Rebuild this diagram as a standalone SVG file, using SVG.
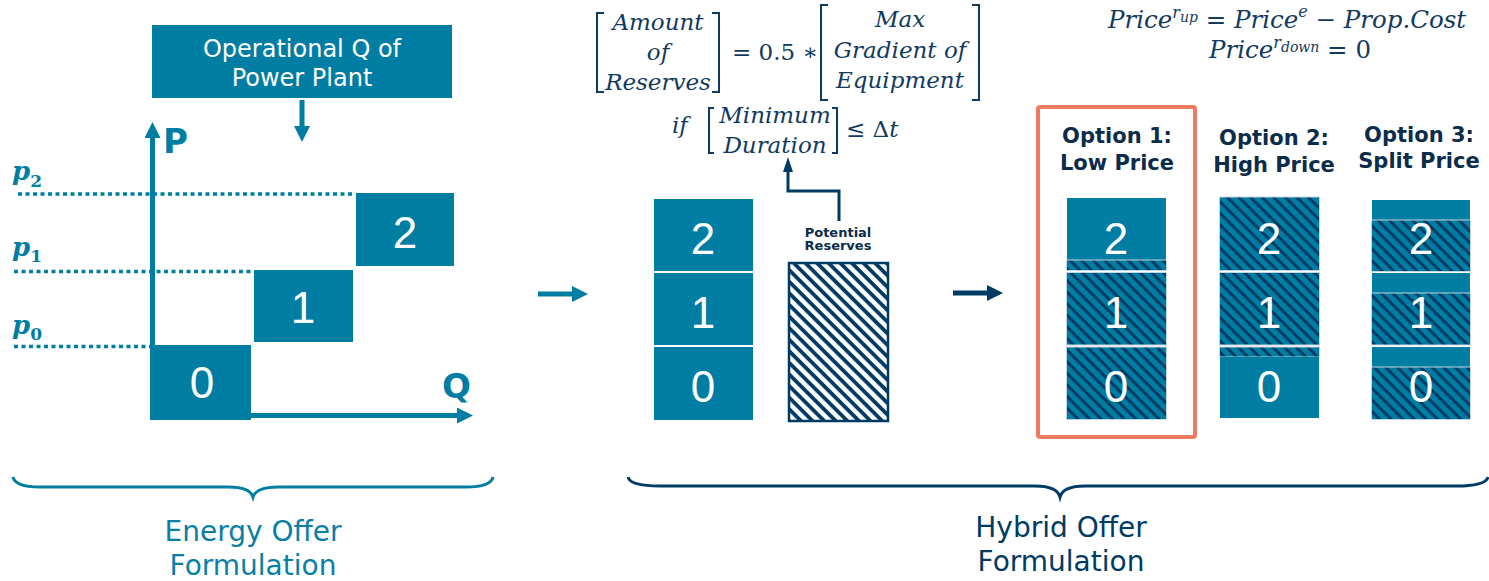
<svg xmlns="http://www.w3.org/2000/svg" width="1489" height="581" viewBox="0 0 1489 581">
  <style>
    .teal { fill: #007DA3; }
    .digit { font-family: "Liberation Sans", Arial, sans-serif; font-size: 44px; fill: #fff; text-anchor: middle; }
    .head { font-family: "DejaVu Sans", Verdana, sans-serif; font-size: 24px; fill: #fff; text-anchor: middle; }
    .axis { font-family: "DejaVu Sans", Verdana, sans-serif; font-weight: bold; font-size: 34px; fill: #007DA3; }
    .plab { font-family: "DejaVu Serif", Cambria, serif; font-weight: bold; font-style: italic; font-size: 26px; fill: #007DA3; }
    .plab .sub { font-style: normal; font-size: 17px; }
    .dots { stroke: #007DA3; stroke-width: 3.5; stroke-dasharray: 4 3.5; fill: none; }
    .caption { font-family: "DejaVu Sans", Verdana, sans-serif; font-size: 28px; text-anchor: middle; }
    .math { font-family: "DejaVu Serif", Cambria, serif; font-style: italic; font-size: 23px; fill: #123A5F; }
    .price { font-size: 24.5px; }
    .up { font-style: normal; }
    .mid { text-anchor: middle; }
    .brk { stroke: #123A5F; stroke-width: 2; fill: none; }
    .opt { font-family: "DejaVu Sans", Verdana, sans-serif; font-weight: bold; font-size: 21px; fill: #0B2C4A; text-anchor: middle; }
    .small { font-family: "DejaVu Sans", Verdana, sans-serif; font-weight: bold; font-size: 13px; fill: #0B2C4A; text-anchor: middle; }
    .hatch { fill: url(#hatchT); stroke: #C5D5DF; stroke-width: 1; }
    .lineT { stroke: #007DA3; stroke-width: 5; fill: none; }
    .lineN { stroke: #003B64; stroke-width: 5; fill: none; }
  </style>
  <defs>
    <!-- diagonal stripes on white (reserve capacity) -->
    <pattern id="hatchW" width="10" height="8.2" patternUnits="userSpaceOnUse" patternTransform="rotate(45)">
      <rect width="10" height="8.2" fill="#fff"/>
      <rect width="10" height="3.8" fill="#003B64"/>
    </pattern>
    <!-- diagonal stripes on teal (energy block offered as reserve) -->
    <pattern id="hatchT" width="10" height="8.2" patternUnits="userSpaceOnUse" patternTransform="rotate(45)">
      <rect width="10" height="8.2" fill="#007DA3"/>
      <rect width="10" height="3" fill="#003B64"/>
    </pattern>
    <marker id="arrT" viewBox="0 0 16 16" markerWidth="16" markerHeight="16" refX="0" refY="8" orient="auto" markerUnits="userSpaceOnUse">
      <path d="M0,0 L16,8 L0,16 z" fill="#007DA3"/>
    </marker>
    <marker id="arrN" viewBox="0 0 16 16" markerWidth="16" markerHeight="16" refX="0" refY="8" orient="auto" markerUnits="userSpaceOnUse">
      <path d="M0,0 L16,8 L0,16 z" fill="#003B64"/>
    </marker>
    <marker id="arrNs" viewBox="0 0 15 10" markerWidth="15" markerHeight="10" refX="0" refY="5" orient="auto" markerUnits="userSpaceOnUse">
      <path d="M0,0 L15,5 L0,10 z" fill="#003B64"/>
    </marker>
  </defs>

  <rect width="1489" height="581" fill="#fff"/>

  <!-- ===== Energy offer: price levels ===== -->
  <g id="price-levels">
    <path class="dots" d="M18 194 H355"/>
    <path class="dots" d="M14 271.5 H253"/>
    <path class="dots" d="M14 346.5 H150"/>
    <text class="plab" x="12" y="180">p<tspan class="sub" y="187">2</tspan></text>
    <text class="plab" x="12" y="256">p<tspan class="sub" y="262">1</tspan></text>
    <text class="plab" x="12" y="334">p<tspan class="sub" y="340">0</tspan></text>
  </g>

  <g id="operational-q">
    <rect class="teal" x="152" y="25" width="300" height="73"/>
    <text class="head" x="302" y="57">Operational Q of</text>
    <text class="head" x="302" y="86">Power Plant</text>
  </g>

  <g id="energy-block-0">
    <rect class="teal" x="150" y="345" width="101" height="75"/>
    <text class="digit" x="202" y="398">0</text>
  </g>
  <g id="energy-block-1">
    <rect class="teal" x="254" y="270" width="99" height="72"/>
    <text class="digit" x="303" y="323">1</text>
  </g>
  <g id="energy-block-2">
    <rect class="teal" x="356" y="193" width="98" height="73"/>
    <text class="digit" x="405" y="248">2</text>
  </g>

  <g id="axes">
    <path class="lineT" d="M152.5 420 V138" marker-end="url(#arrT)"/>
    <path class="lineT" d="M150 415.5 H457" marker-end="url(#arrT)"/>
    <text class="axis" x="163" y="153">P</text>
    <text class="axis" x="442" y="398">Q</text>
  </g>

  <!-- ===== Reserve formulas ===== -->
  <g id="reserve-formula">
    <path class="brk" d="M604 13 H597 V92 H604"/>
    <path class="brk" d="M712 13 H719 V92 H712"/>
    <text class="math mid" x="658" y="30">Amount</text>
    <text class="math mid" x="658" y="60">of</text>
    <text class="math mid" x="658" y="90">Reserves</text>
    <text class="math up" x="732" y="60">= 0.5 ∗</text>
    <path class="brk" d="M828 5 H821 V100 H828"/>
    <path class="brk" d="M972 5 H979 V100 H972"/>
    <text class="math mid" x="900" y="27">Max</text>
    <text class="math mid" x="900" y="58">Gradient of</text>
    <text class="math mid" x="900" y="88">Equipment</text>
    <text class="math" x="672" y="133">if</text>
    <path class="brk" d="M714 108 H709 V153 H714"/>
    <path class="brk" d="M832 108 H837 V153 H832"/>
    <text class="math mid" x="775" y="123">Minimum</text>
    <text class="math mid" x="775" y="153">Duration</text>
    <text class="math" x="846" y="137"><tspan class="up">≤ Δ</tspan>t</text>
  </g>

  <g id="price-formula">
    <text class="math price" x="1108" y="28">Price<tspan font-size="16" dy="-10">r</tspan><tspan font-size="14" dy="4">up</tspan><tspan class="up" dy="6"> = </tspan>Price<tspan font-size="16" dy="-11">e</tspan><tspan class="up" dy="11"> − </tspan>Prop.Cost</text>
    <text class="math price" x="1209" y="58">Price<tspan font-size="16" dy="-10">r</tspan><tspan font-size="14" dy="4">down</tspan><tspan class="up" dy="6"> = 0</tspan></text>
  </g>

  <!-- ===== Hybrid offer: energy blocks and reserve ===== -->
  <g id="hybrid-blocks">
    <rect class="teal" x="654" y="199" width="99" height="72"/>
    <rect class="teal" x="654" y="273" width="99" height="72"/>
    <rect class="teal" x="654" y="347" width="99" height="73"/>
    <text class="digit" x="703" y="254">2</text>
    <text class="digit" x="703" y="328">1</text>
    <text class="digit" x="703" y="402">0</text>
  </g>

  <g id="potential-reserves">
    <rect x="789" y="263" width="99" height="158" fill="url(#hatchW)" stroke="#003B64" stroke-width="2.5"/>
    <text class="small" x="838" y="237">Potential</text>
    <text class="small" x="838" y="250">Reserves</text>
  </g>

  <!-- ===== Pricing options ===== -->
  <g id="option-1">
    <rect x="1038" y="107" width="157" height="330" rx="2" fill="none" stroke="#EE7A60" stroke-width="4"/>
    <text class="opt" x="1117" y="143">Option 1:</text>
    <text class="opt" x="1117" y="170">Low Price</text>
    <rect class="teal" x="1067" y="198" width="99" height="62"/>
    <rect class="hatch" x="1066.5" y="260" width="100" height="10.5"/>
    <rect class="hatch" x="1066.5" y="272.5" width="100" height="72.5"/>
    <rect class="hatch" x="1066.5" y="347" width="100" height="72.5"/>
    <text class="digit" x="1116" y="254">2</text>
    <text class="digit" x="1116" y="328">1</text>
    <text class="digit" x="1116" y="402">0</text>
  </g>

  <g id="option-2">
    <text class="opt" x="1274" y="145">Option 2:</text>
    <text class="opt" x="1274" y="172">High Price</text>
    <rect class="hatch" x="1219.5" y="197" width="100" height="73.5"/>
    <rect class="hatch" x="1219.5" y="272.5" width="100" height="72.5"/>
    <rect class="hatch" x="1219.5" y="347" width="100" height="10"/>
    <rect class="teal" x="1220" y="357" width="99" height="61"/>
    <text class="digit" x="1269" y="254">2</text>
    <text class="digit" x="1269" y="328">1</text>
    <text class="digit" x="1269" y="402">0</text>
  </g>

  <g id="option-3">
    <text class="opt" x="1419" y="142">Option 3:</text>
    <text class="opt" x="1419" y="168">Split Price</text>
    <rect class="teal" x="1372" y="200" width="98" height="20"/>
    <rect class="hatch" x="1371.5" y="220" width="99" height="51.5"/>
    <rect class="teal" x="1372" y="273" width="98" height="20"/>
    <rect class="hatch" x="1371.5" y="293" width="99" height="52"/>
    <rect class="teal" x="1372" y="347" width="98" height="20"/>
    <rect class="hatch" x="1371.5" y="367" width="99" height="52.5"/>
    <text class="digit" x="1421" y="254">2</text>
    <text class="digit" x="1421" y="328">1</text>
    <text class="digit" x="1421" y="402">0</text>
  </g>

  <!-- ===== Connectors ===== -->
  <g id="connectors">
    <path class="lineT" d="M302 100 V126" marker-end="url(#arrT)"/>
    <path class="lineT" d="M538 294 H572" marker-end="url(#arrT)"/>
    <path class="lineN" d="M953 293 H987" marker-end="url(#arrN)"/>
    <path d="M839 221 V191 H788 V172" fill="none" stroke="#003B64" stroke-width="3" marker-end="url(#arrNs)"/>
  </g>

  <!-- ===== Group braces and captions ===== -->
  <g id="energy-caption">
    <path d="M13 477 Q15 487 40 487 H228 Q250 487 253 497 Q256 487 278 487 H466 Q491 487 493 477" fill="none" stroke="#007DA3" stroke-width="3"/>
    <text class="caption" x="253" y="541" fill="#0A7FA6">Energy Offer</text>
    <text class="caption" x="253" y="575" fill="#0A7FA6">Formulation</text>
  </g>
  <g id="hybrid-caption">
    <path d="M628 477 Q630 486 660 486 H1035 Q1057 486 1060 497 Q1063 486 1085 486 H1456 Q1486 486 1488 477" fill="none" stroke="#003B64" stroke-width="3"/>
    <text class="caption" x="1061" y="537" fill="#003B64">Hybrid Offer</text>
    <text class="caption" x="1061" y="571" fill="#003B64">Formulation</text>
  </g>
</svg>
